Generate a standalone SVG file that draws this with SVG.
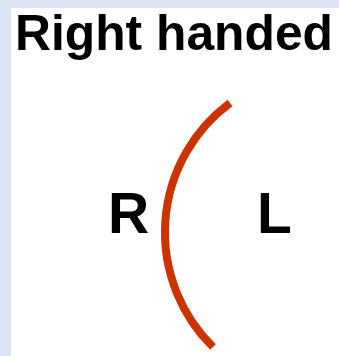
<svg xmlns="http://www.w3.org/2000/svg" width="339" height="356" viewBox="0 0 339 356">
<style>
.lbl{font-family:"Liberation Sans",Arial,sans-serif;font-weight:bold;fill:#000}
</style>
<rect x="0" y="0" width="339" height="356" fill="#dce6f2"/>
<rect x="11" y="8" width="328" height="348" fill="#fff"/>
<text class="lbl" x="15" y="50" font-size="50" textLength="318" lengthAdjust="spacingAndGlyphs">Right handed</text>
<g id="arc">
<path d="M230,103 A161,161 0 0 0 213,347" fill="none" stroke="#cc3300" stroke-width="8"/>
</g>
<g id="R"><text class="lbl" x="108" y="233" font-size="57">R</text></g>
<g id="L"><text class="lbl" x="257" y="233" font-size="57">L</text></g>
</svg>
